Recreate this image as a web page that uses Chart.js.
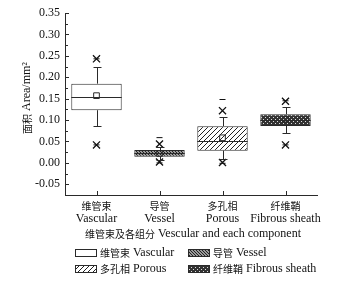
<!DOCTYPE html>
<html>
<head>
<meta charset="utf-8">
<script src="https://cdn.jsdelivr.net/npm/chart.js@4.4.0/dist/chart.umd.min.js"></script>
<style>
  html, body { margin: 0; padding: 0; background: #fff; }
</style>
</head>
<body>
<canvas id="chart" width="346" height="282"></canvas>
<script>
// categories
const catZh = ['维管束', '导管', '多孔相', '纤维鞘'];
const catEn = ['Vascular', 'Vessel', 'Porous', 'Fibrous sheath'];

// box statistics (mm²)
const q1 = [0.123, 0.0146, 0.0285, 0.0863];
const q3 = [0.185, 0.030, 0.0856, 0.1134];
const median = [0.155, 0.022, 0.051, 0.100];
const mean = [0.157, 0.022, 0.0586, 0.102];
const whiskerLow = [0.0856, 0.007, 0.010, 0.0694];
const whiskerHigh = [0.225, 0.037, 0.108, 0.131];
const pct1 = [0.042, 0.002, 0.001, 0.042];
const pct99 = [0.243, 0.044, 0.122, 0.144];
const minVal = [0.042, 0.0, -0.001, 0.042];
const maxVal = [0.243, 0.059, 0.148, 0.145];

// axis
const yMin = -0.075, yMax = 0.35, yStep = 0.05, yMinor = 0.025;
const yLabelFrom = -0.05;
const yTitle = '面积 Area/mm²';
const xTitle = '维管束及各组分 Vescular and each component';

const LATIN = '"Liberation Serif", "Times New Roman", serif';
const CJK = '"Noto Sans CJK SC", sans-serif';
const INK = '#2a2a2a';

// small pixel tiles for the box fills
function makePattern(kind) {
  const s = { vascular: 1, vessel: 3, porous: 5, fibrous: 4 }[kind];
  const c = document.createElement('canvas');
  c.width = s; c.height = s;
  const g = c.getContext('2d');
  g.fillStyle = '#fff';
  g.fillRect(0, 0, s, s);
  if (kind === 'vessel') {
    g.fillStyle = '#9a9a9a';
    g.fillRect(0, 0, s, s);
    g.fillStyle = '#222';
    for (let i = 0; i < s; i++) g.fillRect(i, i, 1, 1);
  } else if (kind === 'porous') {
    g.fillStyle = '#222';
    for (let i = 0; i < s; i++) g.fillRect(i, s - 1 - i, 1, 1);
  } else if (kind === 'fibrous') {
    g.fillStyle = '#333';
    g.fillRect(0, 0, s, s);
    g.fillStyle = '#ddd';
    g.fillRect(1, 1, 1, 1);
    g.fillRect(3, 3, 1, 1);
  }
  return g.createPattern(c, 'repeat');
}

const patterns = ['vascular', 'vessel', 'porous', 'fibrous'].map(makePattern);

// draw text mixing CJK (smaller sans) and Latin (serif) runs
function drawMixed(ctx, text, x, y, align, latinSize, cjkSize) {
  const runs = text.match(/[\u3000-\u9fff\uff00-\uffef]+|[^\u3000-\u9fff\uff00-\uffef]+/g);
  const fonts = runs.map(r => /[\u3000-\u9fff]/.test(r) ? `${cjkSize}px ${CJK}` : `${latinSize}px ${LATIN}`);
  let total = 0;
  const widths = runs.map((r, i) => { ctx.font = fonts[i]; const w = ctx.measureText(r).width; total += w; return w; });
  let cx = align === 'center' ? x - total / 2 : (align === 'right' ? x - total : x);
  ctx.textAlign = 'left';
  ctx.textBaseline = 'middle';
  runs.forEach((r, i) => {
    ctx.font = fonts[i];
    ctx.fillText(r, cx, y);
    cx += widths[i];
  });
}

const boxExtras = {
  id: 'boxExtras',
  afterDatasetsDraw(chart) {
    const { ctx, scales: { y } } = chart;
    const meta = chart.getDatasetMeta(0);
    ctx.save();
    ctx.strokeStyle = INK;
    ctx.lineWidth = 1;
    meta.data.forEach((bar, i) => {
      const cx = Math.round(bar.x) + 0.5;
      const half = bar.width / 2;
      const yMed = Math.round(y.getPixelForValue(median[i])) + 0.5;
      ctx.beginPath();
      ctx.moveTo(bar.x - half, yMed); ctx.lineTo(bar.x + half, yMed);
      // whiskers
      const top = y.getPixelForValue(q3[i]), bot = y.getPixelForValue(q1[i]);
      const wHi = Math.round(y.getPixelForValue(whiskerHigh[i])) + 0.5;
      const wLo = Math.round(y.getPixelForValue(whiskerLow[i])) + 0.5;
      ctx.moveTo(cx, top); ctx.lineTo(cx, wHi);
      ctx.moveTo(cx - 4, wHi); ctx.lineTo(cx + 4, wHi);
      ctx.moveTo(cx, bot); ctx.lineTo(cx, wLo);
      ctx.moveTo(cx - 4, wLo); ctx.lineTo(cx + 4, wLo);
      ctx.stroke();
    });
    ctx.restore();
  },
  afterDraw(chart) {
    const { ctx, scales: { x, y }, chartArea } = chart;
    ctx.save();
    ctx.strokeStyle = INK;
    ctx.fillStyle = '#111';
    ctx.lineWidth = 1;
    // inward ticks on y axis
    ctx.beginPath();
    const n = Math.round((yMax - yMin) / yMinor);
    for (let k = 0; k <= n; k++) {
      const v = yMin + k * yMinor;
      const py = Math.round(y.getPixelForValue(v)) + 0.5;
      const major = Math.abs(Math.round(v / yStep) - v / yStep) < 1e-6;
      ctx.moveTo(chartArea.left, py);
      ctx.lineTo(chartArea.left + (major ? 4 : 3), py);
    }
    // inward ticks on x axis
    catEn.forEach((c, i) => {
      const px = Math.round(x.getPixelForTick(i)) + 0.5;
      ctx.moveTo(px, chartArea.bottom);
      ctx.lineTo(px, chartArea.bottom - 4);
    });
    ctx.stroke();

    // category labels
    catEn.forEach((c, i) => {
      const px = x.getPixelForTick(i);
      drawMixed(ctx, catZh[i], px, chartArea.bottom + 11, 'center', 12, 10);
      drawMixed(ctx, c, px, chartArea.bottom + 24, 'center', 12, 10);
    });
    // axis titles
    drawMixed(ctx, xTitle, (chartArea.left + chartArea.right) / 2 + 2, chartArea.bottom + 39, 'center', 12, 10);
    ctx.save();
    ctx.translate(27, (chartArea.top + chartArea.bottom) / 2 - 6);
    ctx.rotate(-Math.PI / 2);
    drawMixed(ctx, yTitle, 0, 0, 'center', 12, 10);
    ctx.restore();

    // legend, two columns
    const colX = [75, 188], rowY = [253, 269];
    const legendText = catZh.map((z, i) => z + ' ' + catEn[i]);
    legendText.forEach((t, i) => {
      const lx = colX[i % 2], ly = rowY[Math.floor(i / 2)];
      ctx.fillStyle = patterns[i];
      ctx.fillRect(lx + 0.5, ly - 3.5, 21, 7);
      ctx.strokeRect(lx + 0.5, ly - 3.5, 21, 7);
      ctx.fillStyle = '#111';
      drawMixed(ctx, t, lx + 25, ly, 'left', 12, 10);
    });
    ctx.restore();
  }
};

new Chart(document.getElementById('chart'), {
  type: 'bar',
  data: {
    labels: catEn,
    datasets: [
      {
        data: q1.map((v, i) => [v, q3[i]]),
        backgroundColor: patterns,
        borderColor: INK,
        borderWidth: 1,
        borderSkipped: false,
        barPercentage: 0.8,
        categoryPercentage: 1,
        order: 5
      },
      {
        type: 'line', data: mean, showLine: false, order: 1,
        pointStyle: 'rect', pointRadius: 4, pointBorderWidth: 1,
        pointBorderColor: INK, pointBackgroundColor: 'rgba(0,0,0,0)'
      },
      {
        type: 'line', data: pct1, showLine: false, order: 1,
        pointStyle: 'crossRot', pointRadius: 5, pointBorderWidth: 1.3, pointBorderColor: '#111'
      },
      {
        type: 'line', data: pct99, showLine: false, order: 1,
        pointStyle: 'crossRot', pointRadius: 5, pointBorderWidth: 1.3, pointBorderColor: '#111'
      },
      {
        type: 'line', data: minVal, showLine: false, order: 1,
        pointStyle: 'line', pointRadius: 3, pointBorderWidth: 1, pointBorderColor: '#111'
      },
      {
        type: 'line', data: maxVal, showLine: false, order: 1,
        pointStyle: 'line', pointRadius: 3, pointBorderWidth: 1, pointBorderColor: '#111'
      }
    ]
  },
  options: {
    responsive: false,
    animation: false,
    devicePixelRatio: 1,
    layout: { padding: { top: 13, right: 29, left: 0, bottom: 0 } },
    plugins: { legend: { display: false }, tooltip: { enabled: false } },
    scales: {
      x: {
        offset: true,
        grid: { display: false },
        border: { display: true, color: INK, width: 1 },
        ticks: { display: false },
        afterFit: s => { s.height = 87; }
      },
      y: {
        min: yMin,
        max: yMax,
        grid: { display: false, drawTicks: false },
        border: { display: true, color: INK, width: 1 },
        ticks: {
          padding: 5,
          color: '#111',
          font: { family: LATIN, size: 12 },
          callback: v => v.toFixed(2)
        },
        afterBuildTicks: s => {
          const ticks = [];
          for (let k = 0; yLabelFrom + k * yStep <= yMax + 1e-9; k++) {
            ticks.push({ value: Math.round((yLabelFrom + k * yStep) * 1000) / 1000 });
          }
          s.ticks = ticks;
        },
        afterFit: s => { s.width = 65; }
      }
    }
  },
  plugins: [boxExtras]
});
</script>
</body>
</html>
